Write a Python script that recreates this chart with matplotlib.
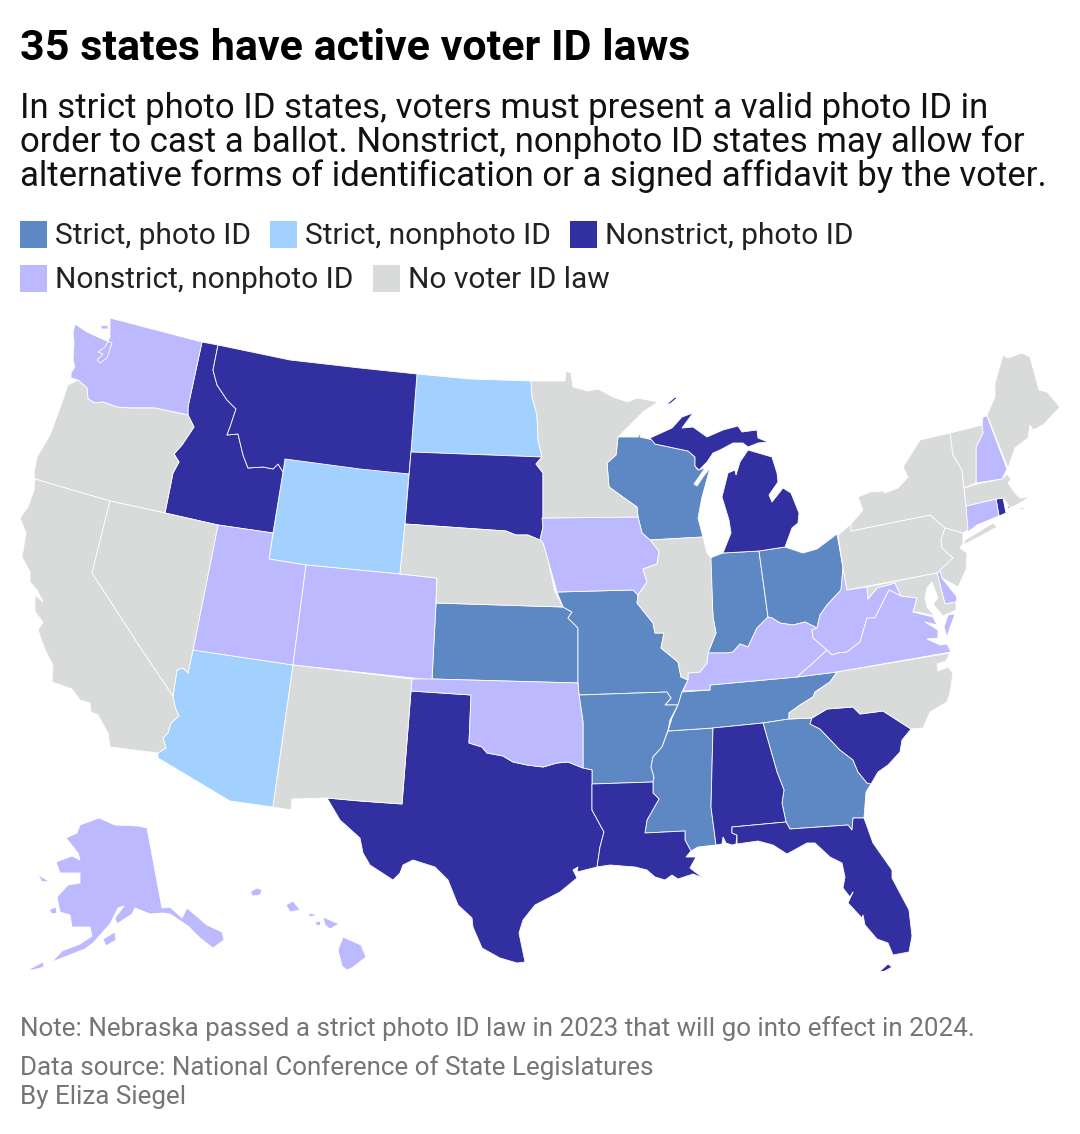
import matplotlib
matplotlib.use('Agg')
import matplotlib.pyplot as plt
from matplotlib.patches import Rectangle

plt.rcParams['font.family'] = ['Roboto', 'DejaVu Sans']

# Colours for each law type
law_colors = {
    'Strict, photo ID': '#5e88c4',
    'Strict, nonphoto ID': '#a2d0ff',
    'Nonstrict, photo ID': '#322fa0',
    'Nonstrict, nonphoto ID': '#bcb9ff',
    'No voter ID law': '#d9dbda',
}

# State outlines (x, y in map units)
WA = [(110,318),(202,342),(188,407),(188,415),(155,408),(130,408),(117,407),(103,402),(95,403),(88,399),(87,388),(78,380),(71,378),(71,373),(75,367),(73,360),(74,343),(73,333),(75,324),(87,332),(100,338),(112,343),(110,349),(107,358),(100,363),(97,360),(103,354),(98,352),(105,347),(110,337)]
WA_island = [(100,326),(108,325),(108,329),(102,329)]
OR = [(68,385),(78,380),(87,388),(88,399),(95,403),(103,402),(117,407),(130,408),(155,408),(188,415),(194,427),(182,445),(174,454),(179,462),(173,473),(165,513),(110,501),(35,479),(34,473),(37,457),(50,435),(60,408)]
CA = [(35,479),(110,501),(92,573),(142,650),(173,696),(175,707),(179,716),(171,723),(168,733),(163,738),(166,748),(158,753),(110,747),(108,733),(98,715),(91,712),(90,703),(80,700),(72,689),(52,682),(53,665),(45,650),(38,630),(43,622),(35,612),(35,595),(43,602),(37,590),(30,582),(30,572),(22,557),(26,533),(20,518),(28,507),(34,490)]
NV = [(110,501),(165,513),(218,525),(193,650),(188,673),(183,668),(177,670),(173,696),(142,650),(92,573)]
ID = [(202,342),(218,345),(213,370),(217,385),(227,400),(236,409),(230,427),(227,435),(238,434),(243,455),(248,468),(263,467),(273,469),(278,464),(283,472),(273,533),(218,525),(165,513),(173,473),(179,462),(174,454),(182,445),(194,427),(188,415),(188,407)]
MT = [(218,345),(290,360),(360,368),(417,374),(411,452),(409,474),(360,469),(285,459),(283,472),(278,464),(273,469),(263,467),(248,468),(243,455),(238,434),(227,435),(230,427),(236,409),(227,400),(217,385),(213,370)]
WY = [(285,459),(409,474),(405,524),(400,574),(306,565),(269,559)]
UT = [(218,525),(273,533),(269,559),(306,565),(293,665),(193,650)]
CO = [(306,565),(400,574),(437,578),(436,603),(432,680),(293,665)]
AZ = [(193,650),(293,665),(273,807),(230,801),(158,758),(158,753),(166,748),(163,738),(168,733),(171,723),(179,716),(175,707),(173,696),(177,670),(183,668),(188,673)]
NM = [(293,665),(412,679),(411,691),(402,804),(360,801),(327,798),(292,799),(291,810),(273,807)]
ND = [(417,374),(470,379),(531,381),(532,397),(537,415),(538,440),(542,457),(411,452)]
SD = [(411,452),(542,457),(536,464),(543,473),(543,527),(540,540),(528,535),(516,535),(506,531),(405,524)]
NE = [(405,524),(506,531),(516,535),(528,535),(540,540),(543,543),(548,560),(555,592),(563,607),(436,603),(437,578),(400,574)]
KS = [(436,603),(563,607),(572,612),(568,618),(578,628),(578,683),(432,679)]
OK = [(412,679),(432,679),(578,683),(579,695),(583,722),(583,768),(568,762),(557,763),(543,767),(527,765),(513,762),(503,756),(487,753),(482,747),(469,743),(471,695),(411,691)]
TX = [(411,691),(471,695),(469,743),(482,747),(487,753),(503,756),(513,762),(527,765),(543,767),(557,763),(568,762),(583,768),(592,770),(592,810),(604,832),(600,847),(597,867),(577,872),(578,867),(573,870),(577,878),(560,892),(535,905),(523,920),(519,933),(525,962),(517,963),(500,958),(482,948),(473,927),(472,918),(458,905),(448,880),(435,867),(413,860),(403,865),(400,873),(393,880),(370,865),(363,853),(360,838),(340,820),(327,798),(360,801),(402,804)]
LA = [(592,784),(653,782),(653,793),(659,799),(647,820),(645,833),(685,831),(685,840),(691,851),(686,857),(696,857),(690,868),(703,878),(693,874),(678,879),(672,875),(665,880),(655,877),(647,870),(635,867),(610,865),(597,867),(600,847),(604,832),(592,810)]
AR = [(579,695),(667,692),(671,698),(665,705),(678,705),(670,720),(668,730),(662,747),(653,757),(651,767),(654,777),(653,782),(592,784),(592,770),(583,768),(583,722)]
MO = [(557,592),(633,590),(638,595),(637,603),(653,623),(655,633),(664,633),(661,648),(678,662),(681,677),(688,680),(682,692),(678,705),(665,705),(671,698),(667,692),(579,695),(578,683),(578,628),(568,618),(572,612),(563,607)]
IA = [(542,518),(638,517),(642,533),(650,540),(659,551),(657,564),(643,569),(647,582),(638,595),(633,590),(557,592),(548,560),(543,543),(540,540),(543,527)]
MN = [(531,381),(565,381),(566,371),(571,373),(573,387),(588,391),(598,389),(613,397),(628,402),(637,398),(658,402),(643,412),(618,437),(616,455),(607,463),(609,487),(627,500),(637,507),(638,517),(543,518),(543,473),(536,464),(542,457),(538,440),(537,415),(532,397)]
WI = [(618,437),(638,437),(642,430),(640,437),(653,440),(655,444),(688,451),(695,457),(695,466),(698,470),(705,468),(694,484),(697,486),(703,477),(710,468),(702,497),(698,518),(703,537),(650,540),(642,533),(638,517),(637,507),(627,500),(609,487),(607,463),(616,455)]
MI_upper = [(650,438),(672,428),(682,417),(693,413),(682,428),(693,427),(707,437),(723,430),(738,426),(742,432),(757,430),(758,438),(768,442),(758,443),(748,447),(743,443),(733,443),(720,450),(713,453),(707,462),(699,470),(695,466),(695,457),(688,451),(655,444)]
MI_isle = [(667,404),(675,397),(677,398),(670,404)]
MI_lower = [(723,553),(731,533),(729,520),(722,497),(728,473),(735,470),(736,475),(740,462),(748,450),(772,457),(777,473),(778,482),(769,495),(772,502),(783,488),(791,493),(799,513),(798,523),(792,528),(785,547),(759,551)]
IL = [(650,540),(703,537),(707,553),(711,558),(713,617),(716,633),(708,653),(707,663),(700,672),(688,673),(688,680),(681,677),(678,662),(661,648),(664,633),(655,633),(653,623),(637,603),(638,595),(647,582),(643,569),(657,564),(659,551)]
IN = [(710,558),(723,553),(759,551),(768,617),(757,628),(748,647),(740,644),(733,652),(727,653),(708,653),(716,633),(713,617)]
OH = [(759,551),(785,547),(803,553),(817,549),(837,534),(843,568),(841,590),(827,605),(820,615),(817,628),(805,622),(793,625),(780,623),(772,618),(768,617)]
KY = [(768,617),(772,618),(780,623),(793,625),(805,622),(817,628),(812,630),(813,638),(827,650),(813,663),(797,677),(710,685),(710,690),(683,691),(688,680),(688,673),(700,672),(707,663),(708,653),(727,653),(733,652),(740,644),(748,647),(757,628)]
TN = [(682,692),(710,690),(710,685),(797,677),(837,672),(830,682),(815,692),(813,697),(800,705),(789,713),(789,719),(763,723),(713,728),(668,731),(672,718),(678,705)]
MS = [(668,731),(713,728),(711,807),(716,845),(698,847),(691,851),(685,840),(685,831),(645,833),(647,820),(659,799),(653,793),(653,782),(654,777),(651,767),(653,757),(662,747)]
AL = [(713,728),(763,723),(777,772),(784,790),(782,803),(786,822),(732,827),(732,833),(737,835),(736,844),(732,845),(726,843),(723,837),(722,844),(716,845),(711,807)]
GA = [(763,723),(789,719),(812,718),(810,724),(820,729),(840,750),(853,760),(858,772),(867,783),(871,784),(866,792),(864,818),(853,818),(852,830),(848,825),(790,829),(786,822),(782,803),(784,790),(777,772)]
FL = [(732,827),(786,822),(790,829),(848,825),(852,830),(853,818),(864,818),(873,843),(892,870),(892,878),(909,910),(912,936),(909,952),(893,955),(888,943),(877,939),(865,925),(863,915),(862,918),(848,903),(853,892),(850,897),(843,888),(845,877),(842,863),(830,857),(815,843),(807,843),(787,854),(773,845),(758,841),(737,844),(737,835),(732,833)]
FL_keys = [(879,972),(888,964),(892,967),(885,971)]
SC = [(812,718),(827,709),(853,707),(860,714),(883,711),(911,729),(902,740),(900,752),(888,765),(878,772),(871,784),(867,783),(858,772),(853,760),(840,750),(820,729),(810,724)]
NC = [(837,672),(950,653),(946,661),(937,664),(938,671),(948,667),(953,673),(950,693),(947,702),(930,712),(923,728),(911,729),(883,711),(860,714),(853,707),(827,709),(812,718),(789,719),(789,713),(800,705),(813,697),(815,692),(830,682)]
VA = [(827,650),(832,655),(838,653),(847,652),(860,642),(867,618),(875,618),(889,590),(901,596),(917,598),(913,612),(933,617),(937,625),(925,622),(938,630),(938,638),(927,639),(940,645),(947,644),(951,652),(837,672),(797,677),(813,663)]
VA_shore = [(947,637),(944,627),(948,615),(955,614),(950,628)]
WV = [(812,630),(817,628),(820,615),(827,605),(841,590),(843,568),(847,590),(867,587),(868,599),(877,588),(888,585),(895,583),(901,596),(889,590),(875,618),(867,618),(860,642),(847,652),(838,653),(832,655),(827,650),(813,638)]
PA = [(838,535),(851,524),(851,531),(930,515),(938,522),(945,528),(941,540),(942,548),(953,558),(942,570),(937,573),(847,590),(843,568)]
NY = [(851,531),(851,524),(863,510),(858,497),(870,492),(883,491),(885,493),(898,488),(908,477),(903,467),(920,440),(950,433),(953,455),(962,470),(964,488),(966,506),(968,530),(963,533),(945,528),(938,522),(930,515)]
NY_long_island = [(963,545),(965,540),(993,523),(997,527),(977,538)]
NJ = [(945,528),(963,533),(963,543),(960,548),(967,553),(966,570),(958,587),(942,578),(940,570),(953,558),(942,548),(941,540)]
DE = [(937,573),(940,570),(942,578),(957,597),(956,602),(945,604)]
MD = [(867,587),(937,573),(945,604),(956,602),(956,610),(943,616),(933,604),(938,598),(932,582),(927,588),(925,598),(927,607),(935,616),(917,612),(913,612),(917,598),(901,596),(895,583),(888,585),(877,588),(868,599)]
CT = [(966,506),(996,499),(999,516),(977,525),(968,532),(967,527)]
RI = [(996,499),(1003,498),(1006,513),(999,516)]
RI_island = [(1007,508),(1009,505),(1010,508)]
MA = [(964,488),(977,484),(1002,479),(1007,474),(1011,479),(1008,483),(1015,493),(1020,498),(1030,497),(1018,504),(1010,508),(1006,502),(1003,498),(996,499),(966,506)]
MA_island = [(1018,509),(1023,507),(1024,510)]
VT = [(950,433),(982,425),(983,433),(976,447),(976,483),(964,488),(962,470),(953,455)]
NH = [(982,425),(983,417),(987,416),(1007,469),(1002,479),(976,483),(976,447),(983,433)]
ME = [(987,415),(995,397),(995,383),(1003,355),(1008,358),(1022,353),(1030,357),(1039,390),(1047,392),(1060,407),(1043,425),(1033,430),(1030,425),(1028,438),(1015,448),(1008,468)]
AK = [(99,818),(115,825),(138,826),(147,828),(162,908),(170,907),(182,918),(187,908),(207,925),(222,932),(224,940),(213,948),(200,938),(188,926),(170,914),(163,913),(150,914),(135,908),(132,914),(117,924),(115,918),(124,906),(118,908),(110,924),(93,943),(85,949),(67,956),(52,962),(62,951),(80,944),(92,936),(90,927),(72,927),(70,915),(60,912),(57,897),(68,885),(80,883),(80,873),(60,873),(56,862),(72,856),(80,860),(78,853),(66,838),(77,833),(80,825)]
AK_kodiak = [(103,939),(115,932),(116,940),(106,946)]
AK_nunivak = [(49,910),(56,907),(57,913),(52,914)]
AK_lawrence = [(38,875),(49,881),(42,882)]
AK_aleutian = [(28,970),(43,962),(44,967),(33,970)]
HI_kauai = [(250,892),(257,888),(262,890),(260,895),(253,896)]
HI_oahu = [(286,905),(293,901),(300,910),(290,912)]
HI_molokai = [(308,913),(318,915),(310,917)]
HI_lanai = [(315,921),(320,921),(320,925),(316,925)]
HI_maui = [(323,917),(339,924),(330,929),(325,925)]
HI_big = [(343,937),(361,945),(366,957),(352,968),(347,970),(342,966),(338,950)]

# Which law each shape belongs to
strict_photo = [WI, IN, OH, KS, MO, AR, MS, TN, GA]
strict_nonphoto = [ND, WY, AZ]
nonstrict_photo = [ID, MT, SD, TX, LA, AL, FL, FL_keys, SC, MI_upper, MI_isle, MI_lower, RI, RI_island]
nonstrict_nonphoto = [WA, WA_island, UT, CO, OK, IA, KY, WV, VA, VA_shore, DE, CT, NH, AK, AK_kodiak, AK_nunivak,
                      AK_lawrence, AK_aleutian, HI_kauai, HI_oahu, HI_molokai, HI_lanai, HI_maui, HI_big]
no_law = [OR, CA, NV, NM, NE, MN, IL, NC, PA, NY, NY_long_island, NJ, MD, MA, MA_island, VT, ME]

groups = {
    'Strict, photo ID': strict_photo,
    'Strict, nonphoto ID': strict_nonphoto,
    'Nonstrict, photo ID': nonstrict_photo,
    'Nonstrict, nonphoto ID': nonstrict_nonphoto,
    'No voter ID law': no_law,
}

W, H = 1080, 1134
fig = plt.figure(figsize=(W / 100, H / 100), dpi=100)
ax = fig.add_axes([0, 0, 1, 1])
ax.set_xlim(0, W)
ax.set_ylim(H, 0)
ax.axis('off')

for name, shapes in groups.items():
    for shape in shapes:
        xs = [p[0] for p in shape]
        ys = [p[1] for p in shape]
        ax.fill(xs, ys, facecolor=law_colors[name], edgecolor='white', linewidth=0.6, joinstyle='round')

# Title, subtitle
ax.text(20, 49, '35 states have active voter ID laws', fontsize=31, fontweight='bold', color='black', va='center')
subtitle = [
    'In strict photo ID states, voters must present a valid photo ID in',
    'order to cast a ballot. Nonstrict, nonphoto ID states may allow for',
    'alternative forms of identification or a signed affidavit by the voter.',
]
for i, line in enumerate(subtitle):
    ax.text(20, 108.5 + i * 34, line, fontsize=25, color='#111111', va='center')

# Legend
legend_items = [('Strict, photo ID', 20, 234), ('Strict, nonphoto ID', 270, 234), ('Nonstrict, photo ID', 570, 234),
                ('Nonstrict, nonphoto ID', 20, 278), ('No voter ID law', 373, 278)]
for label, x, y in legend_items:
    ax.add_patch(Rectangle((x, y - 13.5), 27, 27, facecolor=law_colors[label], edgecolor='none'))
    ax.text(x + 35, y + 1.5, label, fontsize=21.5, color='#222222', va='center')

# Footer
ax.text(20, 1029, 'Note: Nebraska passed a strict photo ID law in 2023 that will go into effect in 2024.',
        fontsize=18.75, color='#757575', va='center')
ax.text(20, 1068, 'Data source: National Conference of State Legislatures', fontsize=18.75, color='#757575', va='center')
ax.text(20, 1097, 'By Eliza Siegel', fontsize=18.75, color='#757575', va='center')

fig.savefig('out.png', dpi=100, facecolor='white')
